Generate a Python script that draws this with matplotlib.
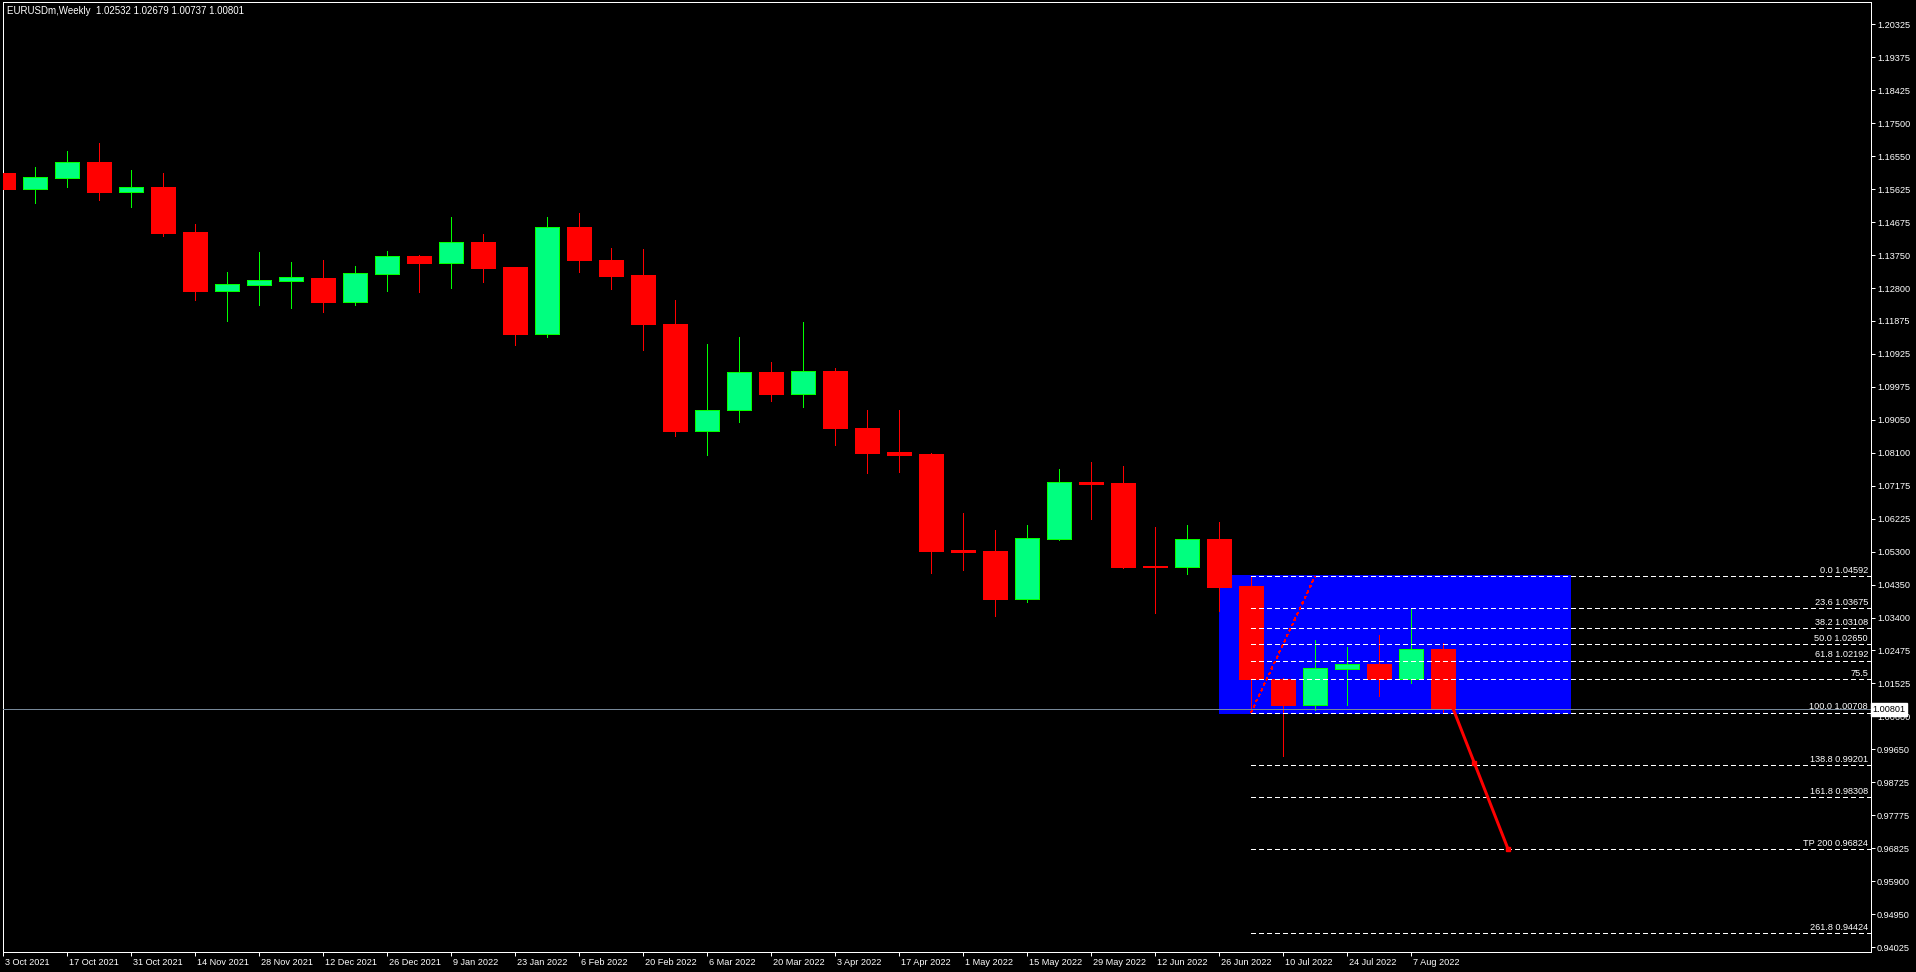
import numpy as np
import matplotlib
matplotlib.use("Agg")
import matplotlib.pyplot as plt
import matplotlib.transforms as mtransforms
from matplotlib.patches import Rectangle

plt.rcParams['font.family'] = ['Liberation Sans', 'DejaVu Sans']

W, H, DPI = 1916, 972, 100
PX = 72.0 / DPI  # one pixel in points

header = "EURUSDm,Weekly  1.02532 1.02679 1.00737 1.00801"

# weekly candles, 3 Oct 2021 .. 14 Aug 2022
opens = [
    1.16089, 1.15641, 1.15955, 1.16403, 1.15556, 1.15690, 1.14407, 1.12734, 1.12905, 1.13010,
    1.13096, 1.12420, 1.13218, 1.13723, 1.13532, 1.14122, 1.13409, 1.11508, 1.14550, 1.13618,
    1.13181, 1.11785, 1.08734, 1.09319, 1.10416, 1.09798, 1.10445, 1.08828, 1.08136, 1.08079,
    1.05351, 1.05314, 1.03954, 1.05664, 1.07281, 1.07252, 1.04886, 1.04866, 1.05647, 1.04316,
    1.01656, 1.00924, 1.01950, 1.02092, 1.01665, 1.02532]
highs = [
    1.16403, 1.16260, 1.16716, 1.16944, 1.16175, 1.16089, 1.14635, 1.13267, 1.13837, 1.13552,
    1.13609, 1.13438, 1.13865, 1.13751, 1.14835, 1.14350, 1.13420, 1.14835, 1.14949, 1.13951,
    1.13923, 1.12469, 1.11214, 1.11414, 1.10701, 1.11842, 1.10530, 1.09333, 1.09333, 1.08107,
    1.06397, 1.05912, 1.06055, 1.07651, 1.07851, 1.07737, 1.05998, 1.06055, 1.06140, 1.04592,
    1.01680, 1.02777, 1.02577, 1.02919, 1.03660, 1.02679]
lows = [
    1.15271, 1.15234, 1.15690, 1.15328, 1.15120, 1.14302, 1.12469, 1.11870, 1.12326, 1.12241,
    1.12127, 1.12326, 1.12734, 1.12705, 1.12819, 1.12990, 1.11194, 1.11423, 1.13275, 1.12791,
    1.11052, 1.08592, 1.08064, 1.09005, 1.09598, 1.09427, 1.08344, 1.07546, 1.07574, 1.04695,
    1.04781, 1.03469, 1.03868, 1.05640, 1.06234, 1.04838, 1.03555, 1.04667, 1.03612, 1.00708,
    0.99470, 1.00781, 1.00924, 1.01189, 1.01551, 1.00737]
closes = [
    1.15641, 1.15975, 1.16403, 1.15556, 1.15690, 1.14387, 1.12725, 1.12925, 1.13039, 1.13124,
    1.12420, 1.13238, 1.13723, 1.13532, 1.14122, 1.13389, 1.11508, 1.14550, 1.13618, 1.13161,
    1.11793, 1.08734, 1.09319, 1.10430, 1.09798, 1.10445, 1.08828, 1.08116, 1.08050, 1.05322,
    1.05294, 1.03954, 1.05684, 1.07281, 1.07232, 1.04866, 1.04858, 1.05647, 1.04296, 1.01656,
    1.00924, 1.01970, 1.02092, 1.01665, 1.02520, 1.00801]

date_labels = ["3 Oct 2021", "17 Oct 2021", "31 Oct 2021", "14 Nov 2021", "28 Nov 2021",
               "12 Dec 2021", "26 Dec 2021", "9 Jan 2022", "23 Jan 2022", "6 Feb 2022",
               "20 Feb 2022", "6 Mar 2022", "20 Mar 2022", "3 Apr 2022", "17 Apr 2022",
               "1 May 2022", "15 May 2022", "29 May 2022", "12 Jun 2022", "26 Jun 2022",
               "10 Jul 2022", "24 Jul 2022", "7 Aug 2022"]

price_labels = ["1.20325", "1.19375", "1.18425", "1.17500", "1.16550", "1.15625", "1.14675",
                "1.13750", "1.12800", "1.11875", "1.10925", "1.09975", "1.09050", "1.08100",
                "1.07175", "1.06225", "1.05300", "1.04350", "1.03400", "1.02475", "1.01525",
                "1.00600", "0.99650", "0.98725", "0.97775", "0.96825", "0.95900", "0.94950",
                "0.94025"]

bid = 1.00801

# fibonacci retracement / expansion
fib_high, fib_low = 1.04592, 1.00708
fib_levels = [0.0, 23.6, 38.2, 50.0, 61.8, 75.5, 100.0, 138.8, 161.8, 200.0, 261.8]
fib_names = ["0.0", "23.6", "38.2", "50.0", "61.8", "75.5", "100.0", "138.8", "161.8", "TP 200", "261.8"]
fib_with_price = [True, True, True, True, True, False, True, True, True, True, True]
fib_start = 39          # bar index where the levels begin
fib_base = [(39, 1.00708), (41, 1.04592)]

box_x = (38, 49)
box_y = (1.0068, 1.0463)

trend = [(44.92, 1.0174), (47.03, 0.96824)]

BULL_FILL = '#00ff7f'
BULL_LINE = '#00ff00'
BEAR = '#ff0000'

fig = plt.figure(figsize=(W / DPI, H / DPI), dpi=DPI, facecolor='black')
left, right, top, bottom = 2.5, 1871, 2.5, 952
ax = fig.add_axes([left / W, 1 - bottom / H, (right - left) / W, (bottom - top) / H])
ax.set_facecolor('black')

n = len(opens)
x = np.arange(n)
o, h, l, c = map(np.array, (opens, highs, lows, closes))
bull = c >= o

px_price = 1 / 3508.0
ax.set_xlim((left - 3) / 32.0, (right - 3) / 32.0)
ax.set_ylim(1.20325 - (bottom - 24.4) * px_price, 1.20325 - (top - 24.4) * px_price)

# blue zone
ax.add_patch(Rectangle((box_x[0], box_y[0]), box_x[1] - box_x[0], box_y[1] - box_y[0],
                       facecolor='#0000ff', edgecolor='none', zorder=0.5, antialiased=False))

# candles
ax.vlines(x[bull], l[bull], h[bull], color=BULL_LINE, lw=PX, zorder=2, antialiased=False)
ax.vlines(x[~bull], l[~bull], h[~bull], color=BEAR, lw=PX, zorder=2, antialiased=False)
body_lo = np.minimum(o, c)
body_h = np.maximum(np.abs(c - o), px_price)
ax.bar(x[bull], body_h[bull], bottom=body_lo[bull], width=0.77, color=BULL_FILL,
       edgecolor=BULL_LINE, linewidth=PX, zorder=3, antialiased=False)
ax.bar(x[~bull], body_h[~bull], bottom=body_lo[~bull], width=0.77, color=BEAR,
       edgecolor=BEAR, linewidth=PX, zorder=3, antialiased=False)

# bid line
ax.axhline(bid, color='#778899', lw=PX, zorder=4)

# fibonacci levels
xmax = ax.get_xlim()[1]
lab_tr = mtransforms.blended_transform_factory(ax.transAxes, ax.transData)
for lvl, name, show in zip(fib_levels, fib_names, fib_with_price):
    p = fib_high - lvl / 100.0 * (fib_high - fib_low)
    ax.plot([fib_start, xmax], [p, p], color='white', lw=PX, ls=(0, (5, 3)),
            zorder=4, antialiased=False)
    txt = f"{name} {p:.5f}" if show else name
    ax.text(1 - 3.0 / (right - left), p + 1.2 * px_price, txt, transform=lab_tr,
            ha='right', va='bottom', color='white', fontsize=6.6, zorder=5)
ax.plot([fib_base[0][0], fib_base[1][0]], [fib_base[0][1], fib_base[1][1]],
        color=BEAR, lw=1.3 * PX, ls=(0, (2, 3)), zorder=4, antialiased=False)

# trend line to TP
(tx0, ty0), (tx1, ty1) = trend
ax.plot([tx0, tx1], [ty0, ty1], color=BEAR, lw=3 * PX, zorder=5, solid_capstyle='butt')
ax.plot([tx0, (tx0 + tx1) / 2, tx1], [ty0, (ty0 + ty1) / 2, ty1], ls='none', marker='s',
        ms=5 * PX, color=BEAR, zorder=6)

# axes frame and ticks
for s in ax.spines.values():
    s.set_color('white')
    s.set_linewidth(PX)
ax.set_xticks(x[::2][:len(date_labels)])
ax.set_xticklabels(date_labels, ha='left')
ax.yaxis.tick_right()
ax.set_yticks(np.linspace(1.20325, 0.94025, len(price_labels)))
ax.set_yticklabels(price_labels)
ax.tick_params(axis='both', colors='white', labelcolor='white', labelsize=6.6,
               length=4 * PX, width=PX, direction='out')
ax.tick_params(axis='x', pad=1.5)
ax.tick_params(axis='y', pad=1.5)
shift = mtransforms.ScaledTranslation(2.0 / DPI, 0, fig.dpi_scale_trans)
for lab in ax.get_xticklabels():
    lab.set_transform(lab.get_transform() + shift)

# current price marker on the price scale
ax.text(1.0 + 1.5 / (right - left), bid, "1.00801", transform=lab_tr, ha='left', va='center',
        color='black', fontsize=6.6, zorder=10, clip_on=False,
        bbox=dict(boxstyle='square,pad=0.2', fc='white', ec='white'))

fig.text(7 / W, 1 - 10.5 / H, header, color='white', fontsize=7, ha='left', va='center')

fig.savefig('out.png', dpi=DPI, facecolor='black')
